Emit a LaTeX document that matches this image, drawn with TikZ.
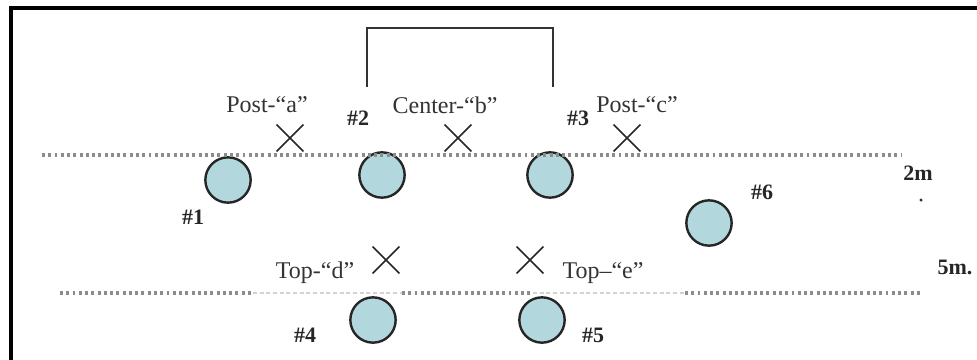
\documentclass[tikz,border=0pt]{standalone}
\usepackage{fontspec}
\setmainfont{Liberation Serif}
\usetikzlibrary{shapes.misc}
\definecolor{disc}{RGB}{178,216,221}
\begin{document}
\begin{tikzpicture}[x=0.75pt, y=-0.75pt,
    player/.style={circle, draw=black!85, line width=1.8pt, fill=disc,
      minimum size=34pt, inner sep=0pt},
    xmark/.style={cross out, draw=black!85, line width=1.2pt,
      minimum size=19pt, inner sep=0pt},
    lab/.style={font=\fontsize{18}{20}\selectfont, text=black!80},
    num/.style={font=\fontsize{16.5}{18}\selectfont\bfseries, text=black!85},
    spots/.style={gray!90, line width=2.6pt, dash pattern=on 2.2pt off 2.5pt},
    faint/.style={gray!35, line width=1pt, dash pattern=on 3pt off 2pt}]
    \useasboundingbox (0,0) rectangle (977,360);

    % frame and goal
    \draw[line width=2.6pt] (977,8) -- (11,8) -- (11,360);
    \coordinate (gl) at (367,87);
    \coordinate (gr) at (553,87);
    \draw[line width=1.6pt, black!80] (gl) -- (367,28) -- (553,28) -- (gr);

    % players
    \node[player] (p1) at (228,180) {};
    \node[player] (p2) at (382,175) {};
    \node[player] (p3) at (550,175) {};
    \node[player] (p4) at (373,320) {};
    \node[player] (p5) at (542,320) {};
    \node[player] (p6) at (709,223) {};

    % 2m and 5m lines
    \draw[spots] (42,155) -- (902,155);
    \draw[spots] (60,293) -- (253,293);
    \draw[faint] (253,293) -- (402,293);
    \draw[spots] (402,293) -- (533,293);
    \draw[faint] (533,293) -- (685,293);
    \draw[spots] (685,293) -- (920,293);

    % shooting spots
    \node[xmark] (xa) at (290,138) {};
    \node[xmark] (xb) at (458,138) {};
    \node[xmark] (xc) at (627,138) {};
    \node[xmark] (xd) at (386,260) {};
    \node[xmark] (xe) at (530,260) {};

    \node[lab] (la) at (267,105) {Post-“a”};
    \node[lab] (lb) at (445,105) {Center-“b”};
    \node[lab] (lc) at (637,105) {Post-“c”};
    \node[lab] (ld) at (315,273) {Top-“d”};
    \node[lab] (le) at (603,273) {Top–“e”};

    \node[num] (n1) at (193,217) {\#1};
    \node[num] (n2) at (358,118) {\#2};
    \node[num] (n3) at (578,118) {\#3};
    \node[num] (n4) at (305,335) {\#4};
    \node[num] (n5) at (593,335) {\#5};
    \node[num] (n6) at (762,192) {\#6};

    \node[num] (d2) at (918,173) {2m};
    \fill[black!80] (921,200) circle (1.3pt);
    \node[num] (d5) at (955,267) {5m.};
  \end{tikzpicture}
\end{document}
